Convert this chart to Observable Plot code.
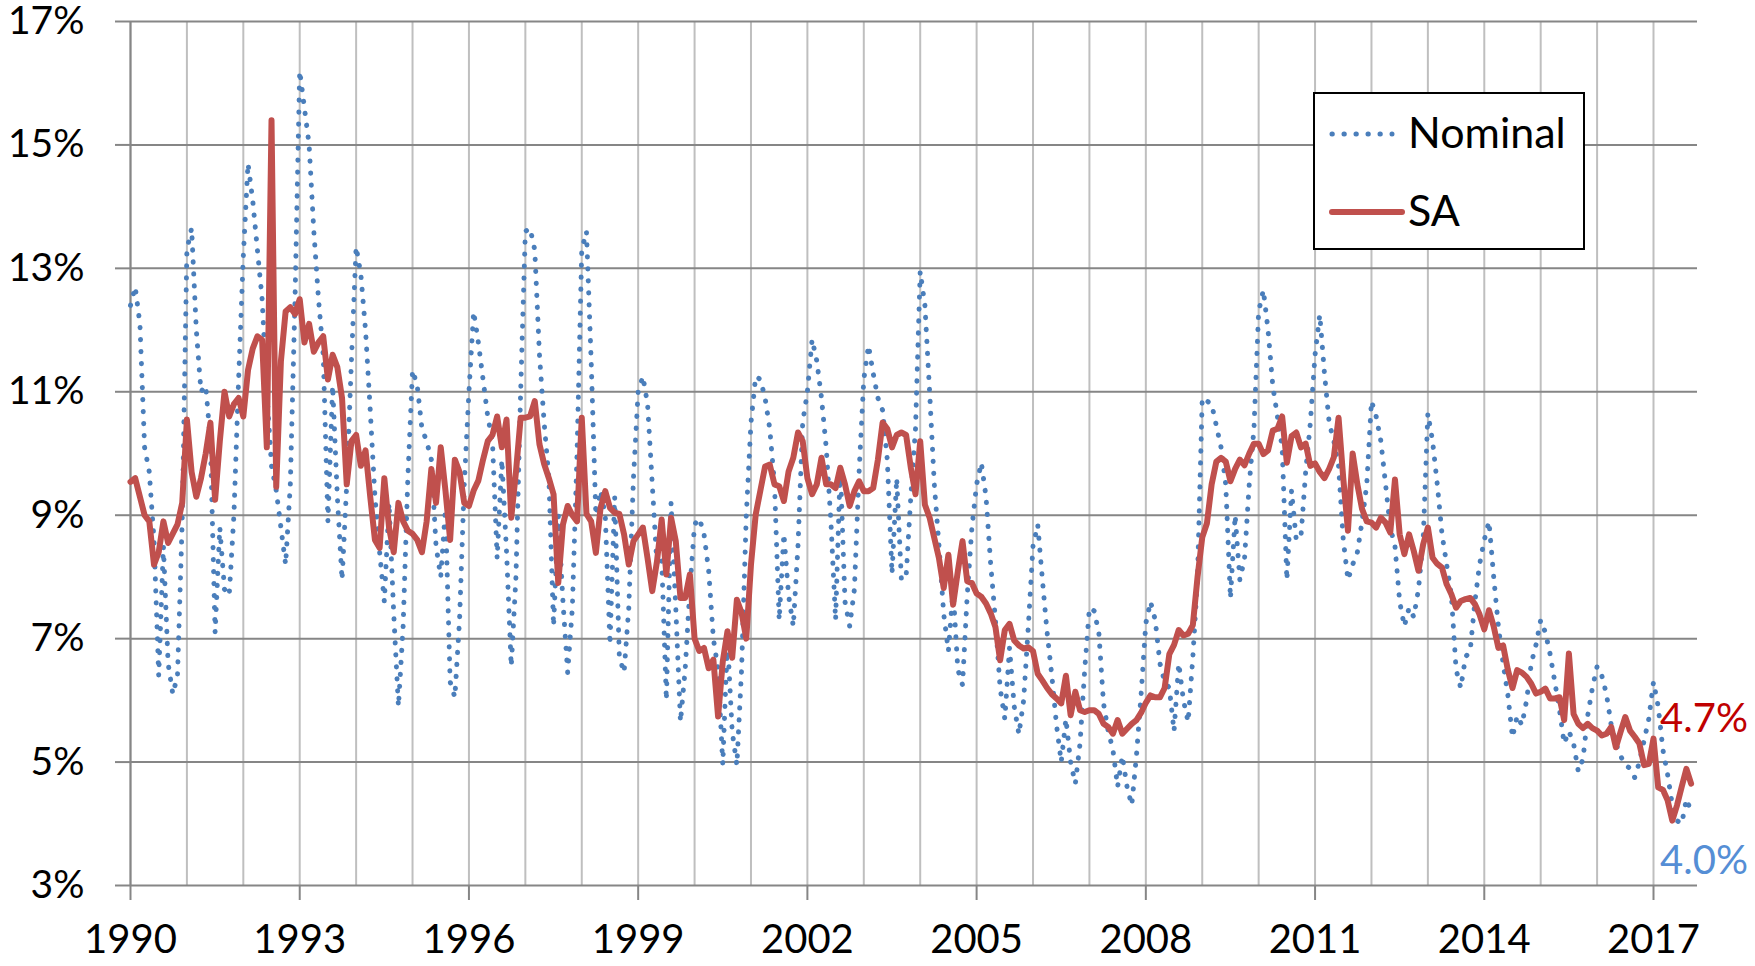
<!DOCTYPE html>
<html>
<head>
<meta charset="utf-8">
<script src="https://cdn.jsdelivr.net/npm/d3@7"></script>
<script src="https://cdn.jsdelivr.net/npm/@observablehq/plot@0.6"></script>
<style>
  html, body { margin: 0; padding: 0; background: #fff; }
  #wrap { position: relative; width: 1755px; height: 966px; font-family: Lato, "Open Sans", sans-serif; }
  #legend { position: absolute; left: 1313px; top: 92px; width: 272px; height: 158px;
            border: 2px solid #000; background: #fff; box-sizing: border-box; }
  #legend svg { position: absolute; left: 0; top: 0; }
</style>
</head>
<body>
<div id="wrap">
  <div id="chart"></div>
  <div id="legend"></div>
</div>
<script>
// ---- data (monthly, starting January 1990) ----
const startYear = 1990;

const nominal = [
  12.4, 12.7, 12.1, 10.1, 9.7, 8.6, 6.4, 8.5, 6.6, 6.1, 6.4, 8.9,        // 1990
  13.3, 13.65, 12.0, 11.0, 11.1, 10.2, 7.1, 8.8, 7.8, 7.7, 9.0, 11.2,    // 1991
  13.2, 14.7, 14.1, 13.3, 12.5, 11.0, 9.8, 9.4, 8.8, 8.2, 9.5, 12.5,     // 1992
  16.2, 15.6, 15.0, 13.6, 12.5, 11.6, 8.9, 11.1, 9.3, 7.95, 9.5, 11.5,   // 1993
  13.35, 12.9, 12.0, 10.7, 9.3, 8.4, 7.6, 9.2, 7.4, 5.9, 7.2, 9.6,      // 1994
  11.35, 11.1, 10.4, 10.2, 9.9, 8.5, 8.0, 9.1, 6.3, 6.05, 7.3, 9.5,     // 1995
  11.0, 12.3, 11.8, 11.2, 10.6, 10.2, 8.3, 9.9, 8.4, 6.55, 8.0, 11.0,   // 1996
  13.6, 13.65, 13.3, 11.6, 10.5, 9.6, 7.2, 9.0, 7.6, 6.45, 7.5, 10.0,   // 1997
  13.3, 13.6, 11.5, 9.0, 9.4, 9.0, 6.9, 9.3, 6.7, 6.45, 7.5, 9.6,       // 1998
  11.0, 11.25, 10.8, 9.5, 8.2, 8.3, 6.0, 9.2, 7.5, 5.65, 6.5, 7.8,      // 1999
  8.85, 8.95, 8.7, 8.1, 7.0, 6.5, 4.96, 7.0, 5.5, 4.95, 6.5, 9.0,       // 2000
  10.5, 11.25, 11.2, 10.9, 10.4, 9.5, 7.3, 8.7, 7.7, 7.2, 8.5, 10.5,    // 2001
  11.0, 11.85, 11.5, 10.9, 10.1, 8.9, 7.3, 9.8, 7.6, 7.2, 7.8, 9.7,     // 2002
  11.2, 11.75, 11.3, 10.9, 10.7, 9.9, 8.05, 9.6, 7.95, 8.0, 9.3, 10.4,  // 2003
  12.95, 12.4, 11.0, 9.5, 8.5, 7.4, 6.8, 7.8, 6.5, 6.25, 7.7, 8.8,      // 2004
  9.5, 9.85, 9.3, 8.2, 7.3, 6.2, 5.7, 6.85, 5.9, 5.45, 6.0, 7.2,        // 2005
  8.5, 8.85, 7.95, 7.1, 6.4, 5.6, 5.0, 5.7, 5.0, 4.65, 5.3, 6.5,        // 2006
  7.5, 7.45, 7.1, 5.95, 5.5, 5.2, 4.6, 5.1, 4.6, 4.3, 5.1, 6.1,         // 2007
  7.25, 7.6, 7.3, 6.6, 6.3, 6.2, 5.5, 6.6, 6.0, 5.65, 6.7, 8.0,         // 2008
  10.9, 10.85, 10.8, 10.45, 10.1, 9.5, 7.65, 9.0, 7.95, 8.3, 9.5, 10.4, // 2009
  12.3, 12.65, 12.0, 11.1, 10.6, 10.1, 7.95, 9.4, 8.6, 8.65, 9.7, 10.5, // 2010
  11.6, 12.25, 11.3, 10.5, 10.2, 9.8, 8.6, 7.95, 8.2, 8.4, 8.9, 9.5,    // 2011
  10.85, 10.6, 10.2, 9.5, 8.8, 8.5, 7.6, 7.2, 7.5, 7.35, 7.8, 8.6,      // 2012
  10.65, 10.2, 9.5, 8.7, 8.2, 7.7, 6.5, 6.2, 6.7, 6.8, 7.6, 8.2,        // 2013
  8.6, 8.9, 8.0, 7.2, 6.6, 6.1, 5.4, 5.75, 5.6, 6.0, 6.6, 6.9,          // 2014
  7.3, 7.1, 6.75, 6.3, 5.85, 5.3, 5.5, 5.3, 4.85, 5.05, 5.75, 6.2,      // 2015
  6.55, 6.4, 6.1, 5.6, 5.3, 5.1, 4.95, 4.9, 4.75, 5.0, 5.35, 5.7,       // 2016
  6.3, 5.9, 5.2, 4.8, 4.3, 4.05, 4.0, 4.4, 4.2                           // 2017
];

const sa = [
  9.54, 9.6, 9.3, 9.0, 8.9, 8.2, 8.4, 8.9, 8.55, 8.7, 8.85, 9.2,        // 1990
  10.55, 9.7, 9.3, 9.6, 10.0, 10.5, 9.25, 10.2, 11.0, 10.6, 10.8, 10.9, // 1991
  10.6, 11.35, 11.7, 11.9, 11.84, 10.1, 15.4, 9.46, 11.5, 12.3, 12.37, 12.26, // 1992
  12.5, 11.8, 12.1, 11.65, 11.8, 11.9, 11.2, 11.6, 11.4, 10.9, 9.5, 10.2, // 1993
  10.3, 9.8, 10.05, 9.3, 8.6, 8.47, 9.6, 8.8, 8.4, 9.2, 8.9, 8.75,      // 1994
  8.7, 8.6, 8.4, 8.9, 9.75, 9.2, 10.1, 9.4, 8.6, 9.9, 9.7, 9.2,         // 1995
  9.15, 9.4, 9.56, 9.9, 10.2, 10.3, 10.6, 10.1, 10.55, 8.96, 9.7, 10.58, // 1996
  10.58, 10.6, 10.85, 10.15, 9.83, 9.6, 9.34, 7.9, 8.85, 9.15, 9.0, 8.9, // 1997
  10.58, 9.02, 8.9, 8.39, 9.12, 9.39, 9.12, 9.04, 9.02, 8.69, 8.2, 8.58, // 1998
  8.69, 8.8, 8.3, 7.77, 8.25, 8.93, 8.04, 8.96, 8.58, 7.66, 7.66, 8.04, // 1999
  7.0, 6.8, 6.85, 6.52, 6.66, 5.74, 6.63, 7.12, 6.69, 7.63, 7.42, 7.0,  // 2000
  8.2, 9.01, 9.4, 9.79, 9.82, 9.5, 9.47, 9.23, 9.71, 9.93, 10.34, 10.2, // 2001
  9.6, 9.34, 9.5, 9.93, 9.5, 9.5, 9.44, 9.77, 9.5, 9.15, 9.39, 9.55,    // 2002
  9.39, 9.39, 9.44, 9.9, 10.5, 10.4, 10.1, 10.3, 10.34, 10.3, 9.77, 9.34, // 2003
  10.2, 9.17, 8.96, 8.63, 8.3, 7.82, 8.36, 7.55, 8.09, 8.58, 7.93, 7.9, // 2004
  7.73, 7.68, 7.57, 7.41, 7.19, 6.65, 7.14, 7.24, 6.97, 6.89, 6.84, 6.86, // 2005
  6.8, 6.43, 6.32, 6.2, 6.1, 6.03, 5.95, 6.4, 5.76, 6.14, 5.84, 5.81,   // 2006
  5.84, 5.84, 5.78, 5.62, 5.57, 5.46, 5.68, 5.46, 5.54, 5.62, 5.68, 5.8, // 2007
  5.96, 6.08, 6.05, 6.05, 6.2, 6.75, 6.9, 7.14, 7.05, 7.08, 7.22, 8.0,  // 2008
  8.64, 8.87, 9.5, 9.87, 9.93, 9.87, 9.55, 9.75, 9.9, 9.81, 10.0, 10.16, // 2009
  10.16, 9.99, 10.05, 10.37, 10.4, 10.6, 9.85, 10.28, 10.34, 10.1, 10.16, 9.8, // 2010
  9.84, 9.7, 9.6, 9.75, 9.94, 10.58, 9.6, 8.75, 10.0, 9.5, 9.1, 8.9,    // 2011
  8.88, 8.8, 8.96, 8.88, 8.72, 9.58, 8.69, 8.37, 8.69, 8.42, 8.1, 8.53, // 2012
  8.8, 8.31, 8.21, 8.15, 7.88, 7.72, 7.5, 7.61, 7.64, 7.66, 7.56, 7.39, // 2013
  7.15, 7.46, 7.2, 6.85, 6.89, 6.5, 6.2, 6.49, 6.45, 6.38, 6.27, 6.11,  // 2014
  6.14, 6.19, 6.03, 6.03, 6.05, 5.68, 6.76, 5.78, 5.62, 5.55, 5.62, 5.55, // 2015
  5.51, 5.43, 5.46, 5.57, 5.24, 5.49, 5.73, 5.51, 5.41, 5.3, 4.95, 4.97, // 2016
  5.38, 4.59, 4.55, 4.38, 4.05, 4.3, 4.6, 4.89, 4.65                    // 2017
];

const yTicks = [3, 5, 7, 9, 11, 13, 15, 17];
const xTickYears = [1990, 1993, 1996, 1999, 2002, 2005, 2008, 2011, 2014, 2017];
const gridYears = d3.range(1990, 2018);
const seriesNames = ["Nominal", "SA"];
const endLabels = ["4.7%", "4.0%"];

// ---- build tables ----
const toRows = (arr, name) => arr.map((v, i) => ({ t: startYear + i / 12, v, s: name }));
const nomRows = toRows(nominal, seriesNames[0]);
const saRows = toRows(sa, seriesNames[1]);
const lastSA = saRows[saRows.length - 1];
const lastNom = nomRows[nomRows.length - 1];

const BLUE = "#4a7ebb";
const RED = "#c0504d";
const AXIS = "#868686";
const GRIDV = "#bfbfbf";

const chart = Plot.plot({
  width: 1755,
  height: 966,
  marginLeft: 130,
  marginRight: 58,
  marginTop: 21,
  marginBottom: 81,
  style: { fontFamily: "Lato, 'Open Sans', sans-serif", background: "#fff", color: "#000" },
  x: { type: "linear", domain: [1990, 2017.78], label: null },
  y: { type: "linear", domain: [3, 17], label: null },
  marks: [
    Plot.gridX(gridYears, { stroke: GRIDV, strokeOpacity: 1, strokeWidth: 2 }),
    Plot.gridY(yTicks, { stroke: AXIS, strokeOpacity: 1, strokeWidth: 2 }),
    Plot.ruleX([1990], { stroke: AXIS, strokeWidth: 2 }),
    Plot.axisY(yTicks, {
      label: null, tickFormat: d => d + "%", tickSize: 15, tickPadding: 31, fontSize: 39,
      stroke: AXIS, strokeWidth: 2, fill: "#000"
    }),
    Plot.axisX(xTickYears, {
      label: null, tickFormat: d => String(d), tickSize: 15, tickPadding: 24, fontSize: 40,
      stroke: AXIS, strokeWidth: 2, fill: "#000"
    }),
    Plot.line(nomRows, {
      x: "t", y: "v", stroke: BLUE, strokeWidth: 5,
      strokeDasharray: "0.3 11.7", strokeLinecap: "round", strokeLinejoin: "round"
    }),
    Plot.line(saRows, {
      x: "t", y: "v", stroke: RED, strokeWidth: 6, strokeLinejoin: "round", strokeLinecap: "round"
    }),
    Plot.text([lastSA], {
      x: "t", y: "v", text: () => endLabels[0], fill: "#c00000", fontSize: 40,
      textAnchor: "start", dx: -31, dy: -64
    }),
    Plot.text([lastNom], {
      x: "t", y: "v", text: () => endLabels[1], fill: "#558ed5", fontSize: 40,
      textAnchor: "start", dx: -31, dy: 50
    })
  ]
});
document.getElementById("chart").appendChild(chart);

// ---- legend (overlay box in the plot area) ----
const lg = d3.select("#legend").append("svg").attr("width", 268).attr("height", 154)
  .style("font-family", "Lato, 'Open Sans', sans-serif");
lg.append("line").attr("x1", 17).attr("x2", 77).attr("y1", 40).attr("y2", 40)
  .attr("stroke", BLUE).attr("stroke-width", 5).attr("stroke-dasharray", "0.3 11.7")
  .attr("stroke-linecap", "round");
lg.append("text").attr("x", 93).attr("y", 54).attr("font-size", 43).attr("fill", "#000").text(seriesNames[0]);
lg.append("line").attr("x1", 17).attr("x2", 87).attr("y1", 118).attr("y2", 118)
  .attr("stroke", RED).attr("stroke-width", 6).attr("stroke-linecap", "round");
lg.append("text").attr("x", 93).attr("y", 132).attr("font-size", 43).attr("fill", "#000").text(seriesNames[1]);
</script>
</body>
</html>
